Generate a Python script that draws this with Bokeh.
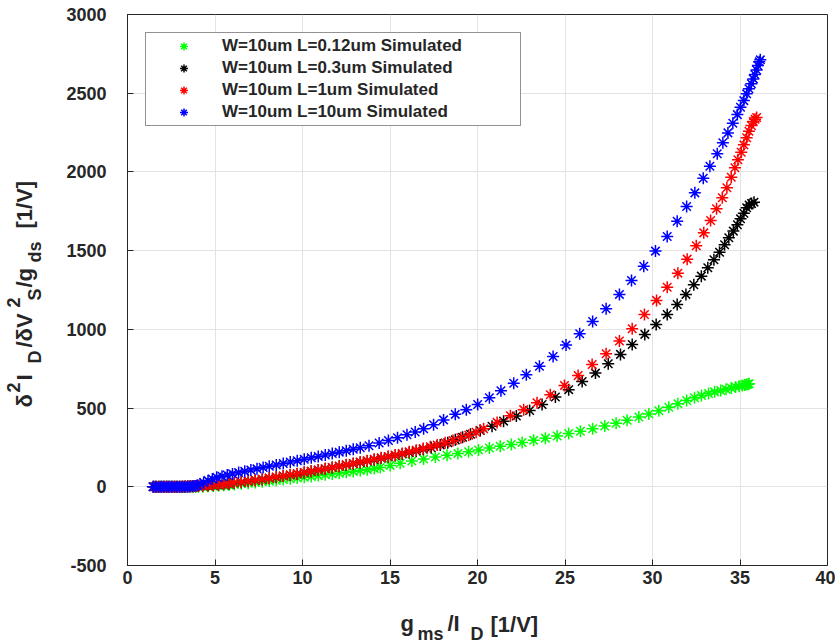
from bokeh.plotting import figure
from bokeh.models import Range1d, FixedTicker, Legend, LegendItem, Label
from bokeh.layouts import row, column
from bokeh.embed import file_html
from bokeh.resources import INLINE

# ---------------- data ----------------
x_ticks = [0, 5, 10, 15, 20, 25, 30, 35, 40]
y_ticks = [-500, 0, 500, 1000, 1500, 2000, 2500, 3000]
y_tick_text = {-500: "-500"}

series_labels = [
    "W=10um L=0.12um Simulated",
    "W=10um L=0.3um Simulated",
    "W=10um L=1um Simulated",
    "W=10um L=10um Simulated",
]
series_colors = ["#00ff00", "#000000", "#ff0000", "#0000ff"]

start_x = [1.5, 1.65, 1.8, 1.95, 2.1, 2.25, 2.4, 2.55, 2.7, 2.85, 3.0, 3.15,
           3.3, 3.45, 3.6, 3.75, 3.9, 4.05]

# green: L=0.12um
gx = start_x + [4.3, 4.6, 4.9, 5.2, 5.5, 5.8, 6.1, 6.5, 6.9, 7.3,
                7.7, 8.1, 8.5, 8.9, 9.3, 9.7, 10.1, 10.5, 10.9, 11.3,
                11.7, 12.1, 12.5, 12.9, 13.3, 13.7, 14.1, 14.44, 15.01, 15.58,
                16.25, 16.92, 17.59, 18.26, 18.88, 19.49, 20.06, 20.68, 21.30, 21.93,
                22.55, 23.21, 23.88, 24.55, 25.21, 25.88, 26.58, 27.27, 27.92, 28.55,
                29.22, 29.79, 30.36, 30.93, 31.45, 31.95, 32.4, 32.8, 33.2, 33.55,
                33.9, 34.2, 34.5, 34.75, 34.95, 35.12, 35.27, 35.38, 35.46, 35.52]
gy = [0, 0, 0, 0, 0, 0, 0, 0, 0, 1, 0, 1, 1, 1, 1, 1, 1, 1,
      1, 3, 5, 7, 9, 12, 15, 19, 23, 27,
      32, 36, 41, 46, 51, 56, 61, 66, 71, 76,
      81, 86, 92, 97, 103, 109, 116, 123, 136, 149,
      164, 177, 189, 200, 212, 223, 234, 246, 257, 269,
      281, 295, 309, 323, 338, 353, 369, 386, 404, 423,
      443, 462, 483, 505, 527, 548, 566, 580, 593, 603,
      612, 620, 628, 634, 639, 643, 647, 650, 652, 654]

# black: L=0.3um
kx = start_x + [4.3, 4.6, 4.9, 5.2, 5.5, 5.8, 6.1, 6.5, 6.9, 7.3,
                7.7, 8.1, 8.5, 8.9, 9.3, 9.7, 10.1, 10.5, 10.9, 11.3,
                11.7, 12.1, 12.5, 12.9, 13.3, 13.7, 14.1, 14.5, 14.9, 15.3,
                15.7, 16.1, 16.5, 16.9, 17.35, 17.87, 18.3, 18.73, 19.15, 19.6,
                20.16, 20.83, 21.49, 22.22, 22.98, 23.69, 24.45, 25.21, 25.98, 26.74,
                27.47, 28.17, 28.84, 29.56, 30.21, 30.84, 31.41, 31.91, 32.36, 32.79,
                33.16, 33.51, 33.83, 34.12, 34.36, 34.62, 34.85, 35.03, 35.22, 35.38,
                35.52, 35.66, 35.8]
ky = [0, 0, 0, 0, 0, 0, 0, 0, 1, 1, 1, 1, 2, 2, 3, 3, 4, 5,
      6, 8, 10, 13, 16, 20, 24, 29, 35, 41,
      47, 54, 61, 68, 75, 82, 90, 98, 106, 114,
      122, 130, 138, 147, 155, 164, 172, 181, 190, 199,
      208, 218, 228, 238, 250, 266, 280, 298, 315, 334,
      358, 385, 417, 449, 485, 523, 570, 617, 669, 722,
      782, 841, 904, 968, 1031, 1095, 1158, 1222, 1283, 1338,
      1391, 1442, 1490, 1537, 1582, 1624, 1664, 1702, 1738, 1772,
      1790, 1800, 1808]

# red: L=1um
rx = start_x + [4.3, 4.6, 4.9, 5.2, 5.5, 5.8, 6.1, 6.5, 6.9, 7.3,
                7.7, 8.1, 8.5, 8.9, 9.3, 9.7, 10.1, 10.5, 10.9, 11.3,
                11.7, 12.1, 12.5, 12.9, 13.3, 13.7, 14.1, 14.5, 14.9, 15.3,
                15.7, 16.1, 16.5, 16.9, 17.3, 17.7, 18.15, 18.6, 19.05, 19.5,
                19.92, 20.35, 21.12, 21.88, 22.64, 23.40, 24.16, 24.97, 25.75, 26.55,
                27.35, 28.11, 28.84, 29.54, 30.23, 30.84, 31.45, 31.98, 32.50, 32.93,
                33.32, 33.66, 33.99, 34.25, 34.50, 34.71, 34.88, 35.07, 35.22, 35.38,
                35.51, 35.65, 35.76, 35.86, 35.95]
ry = [0, 0, 1, 0, 0, 1, 0, 1, 0, 1, 1, 2, 2, 3, 3, 4, 5, 6,
      7, 9, 11, 14, 17, 21, 25, 30, 36, 42,
      48, 55, 62, 69, 76, 83, 91, 99, 107, 115,
      123, 131, 140, 148, 157, 166, 175, 184, 193, 202,
      212, 222, 232, 243, 254, 265, 279, 294, 311, 328,
      346, 368, 409, 451, 490, 534, 585, 644, 707, 777,
      845, 926, 1004, 1094, 1184, 1268, 1357, 1446, 1531, 1613,
      1691, 1766, 1836, 1899, 1966, 2026, 2077, 2125, 2172, 2217,
      2258, 2295, 2320, 2335, 2346]

# blue: L=10um
bx = [1.45, 1.6, 1.75, 1.9, 2.05, 2.2, 2.35, 2.5, 2.65, 2.8, 2.95, 3.1,
      3.25, 3.4, 3.55, 3.7, 3.85, 4.0,
      4.15, 4.35, 4.6, 4.85, 5.1, 5.4, 5.7, 6.0, 6.35, 6.7,
      7.05, 7.4, 7.75, 8.1, 8.5, 8.9, 9.3, 9.7, 10.1, 10.5,
      10.9, 11.3, 11.7, 12.1, 12.5, 12.9, 13.3, 13.8,
      14.38, 14.91, 15.43, 15.97, 16.44, 16.92, 17.49, 18.06, 18.73,
      19.36, 20.01, 20.68, 21.34, 22.07, 22.79, 23.54, 24.32, 25.06, 25.84,
      26.58, 27.35, 28.11, 28.80, 29.50, 30.17, 30.84, 31.41, 31.95, 32.42,
      32.90, 33.28, 33.70, 34.02, 34.31, 34.59, 34.85, 35.03, 35.22, 35.38,
      35.51, 35.65, 35.76, 35.85, 35.95, 36.02, 36.10, 36.16]
by = [0, 0, -1, 0, 0, 1, 0, 0, 1, 0, 0, 1, 0, 1, 2, 3, 5, 9,
      16, 27, 39, 50, 60, 67, 75, 82, 90, 98,
      106, 114, 122, 130, 139, 148, 157, 166, 175, 184,
      193, 202, 211, 220, 229, 238, 248, 261,
      278, 294, 311, 330, 348, 368, 394, 425, 460,
      490, 523, 566, 610, 658, 712, 766, 828, 900, 972,
      1050, 1131, 1222, 1310, 1401, 1497, 1590, 1687, 1780, 1867,
      1960, 2036, 2115, 2185, 2248, 2309, 2364, 2411, 2453, 2496,
      2528, 2560, 2591, 2619, 2648, 2676, 2700, 2712]

# ---------------- layout geometry ----------------
W, H = 835, 642
LW = 60            # left strip holding the y-axis title
BH = 42            # bottom strip holding the x-axis title
MW, MH = W - LW, H - BH
FL, FR, FT, FB = 127, 827, 14, 565   # frame edges in window pixels
X0, X1, Y0, Y1 = 0, 40, -500, 3000
TXT = "#262626"
FONT = "Liberation Sans"

p = figure(width=MW, height=MH, x_range=Range1d(X0, X1), y_range=Range1d(Y0, Y1),
           output_backend="svg", toolbar_location=None,
           min_border_left=FL - LW, min_border_right=W - FR,
           min_border_top=FT, min_border_bottom=MH - FB)
p.title.visible = False
p.background_fill_color = "white"
p.border_fill_color = "white"
p.outline_line_color = TXT
p.outline_line_width = 1

for ax in (p.xaxis[0], p.yaxis[0]):
    ax.axis_line_color = TXT
    ax.major_tick_line_color = TXT
    ax.major_tick_in = 6
    ax.major_tick_out = 0
    ax.minor_tick_line_color = None
    ax.major_label_text_font = FONT
    ax.major_label_text_font_size = "18px"
    ax.major_label_text_font_style = "bold"
    ax.major_label_text_color = TXT
p.xaxis.ticker = FixedTicker(ticks=x_ticks)
p.yaxis.ticker = FixedTicker(ticks=y_ticks)
p.yaxis.major_label_overrides = y_tick_text
p.xaxis.major_label_standoff = 5
p.yaxis.major_label_standoff = 21
p.xgrid.ticker = FixedTicker(ticks=x_ticks)
p.ygrid.ticker = FixedTicker(ticks=y_ticks)
p.grid.grid_line_color = "#e3e3e3"
p.grid.grid_line_width = 1

renderers = []
for xs, ys, c in zip([gx, kx, rx, bx], [gy, ky, ry, by], series_colors):
    r = p.scatter(xs, ys, marker="asterisk", size=12, line_color=c, line_width=1.5)
    renderers.append(r)

legend = Legend(items=[LegendItem(label=l, renderers=[r]) for l, r in zip(series_labels, renderers)],
                location="top_left", margin=18, padding=3, spacing=2,
                glyph_width=69, glyph_height=20, label_height=20, label_width=295,
                label_standoff=4,
                label_text_font=FONT, label_text_font_size="17px",
                label_text_font_style="bold", label_text_color=TXT,
                border_line_color=TXT, border_line_width=1,
                background_fill_color="white", background_fill_alpha=1)
p.add_layout(legend)


def strip(w, h, xr, yr, bl=0, br=0, bt=0, bb=0):
    f = figure(width=w, height=h, x_range=Range1d(*xr), y_range=Range1d(*yr),
               output_backend="svg", toolbar_location=None, title=None,
               min_border_left=bl, min_border_right=br,
               min_border_top=bt, min_border_bottom=bb,
               x_axis_location=None, y_axis_location=None)
    f.outline_line_color = None
    f.grid.visible = False
    f.background_fill_color = "white"
    f.border_fill_color = "white"
    return f


# strips use window pixels as data: x = window px, y = H - window py
ylab = strip(LW, H, (0, LW), (H - FB, H - FT), bt=FT, bb=H - FB)
xlab = strip(MW, BH, (FL, FR), (0, BH), bl=FL - LW, br=W - FR)


def put(f, text, px, py, size, angle=0):
    f.add_layout(Label(x=px, y=H - py, text=text, text_font=FONT,
                       text_font_size=size, text_font_style="bold", text_color=TXT,
                       text_align="left", text_baseline="alphabetic",
                       angle=angle, angle_units="deg"))


BIG, SMALL = "22px", "18px"
# x-axis title  g_ms / I_D [1/V]
put(xlab, "g", 400, 623, BIG)
put(xlab, "ms", 417, 633, SMALL)
put(xlab, "/I", 447, 623, BIG)
put(xlab, "D", 470, 633, SMALL)
put(xlab, "[1/V]", 490, 624, BIG)

# y-axis title  δ²I_D/δV²_S/g_ds [1/V]  (rotated)
put(ylab, "\u03b4", 24, 407, BIG, 90)
put(ylab, "2", 13, 392, SMALL, 90)
put(ylab, "I", 24, 380, BIG, 90)
put(ylab, "D", 34, 363, SMALL, 90)
put(ylab, "/\u03b4V", 24, 347, BIG, 90)
put(ylab, "2", 13, 307, SMALL, 90)
put(ylab, "S", 34, 300, SMALL, 90)
put(ylab, "/g", 24, 287, BIG, 90)
put(ylab, "ds", 34, 262, SMALL, 90)
put(ylab, "[1/V]", 24, 228, BIG, 90)

layout = row(ylab, column(p, xlab, spacing=0), spacing=0)
open("out.html", "w").write(file_html(layout, INLINE))
